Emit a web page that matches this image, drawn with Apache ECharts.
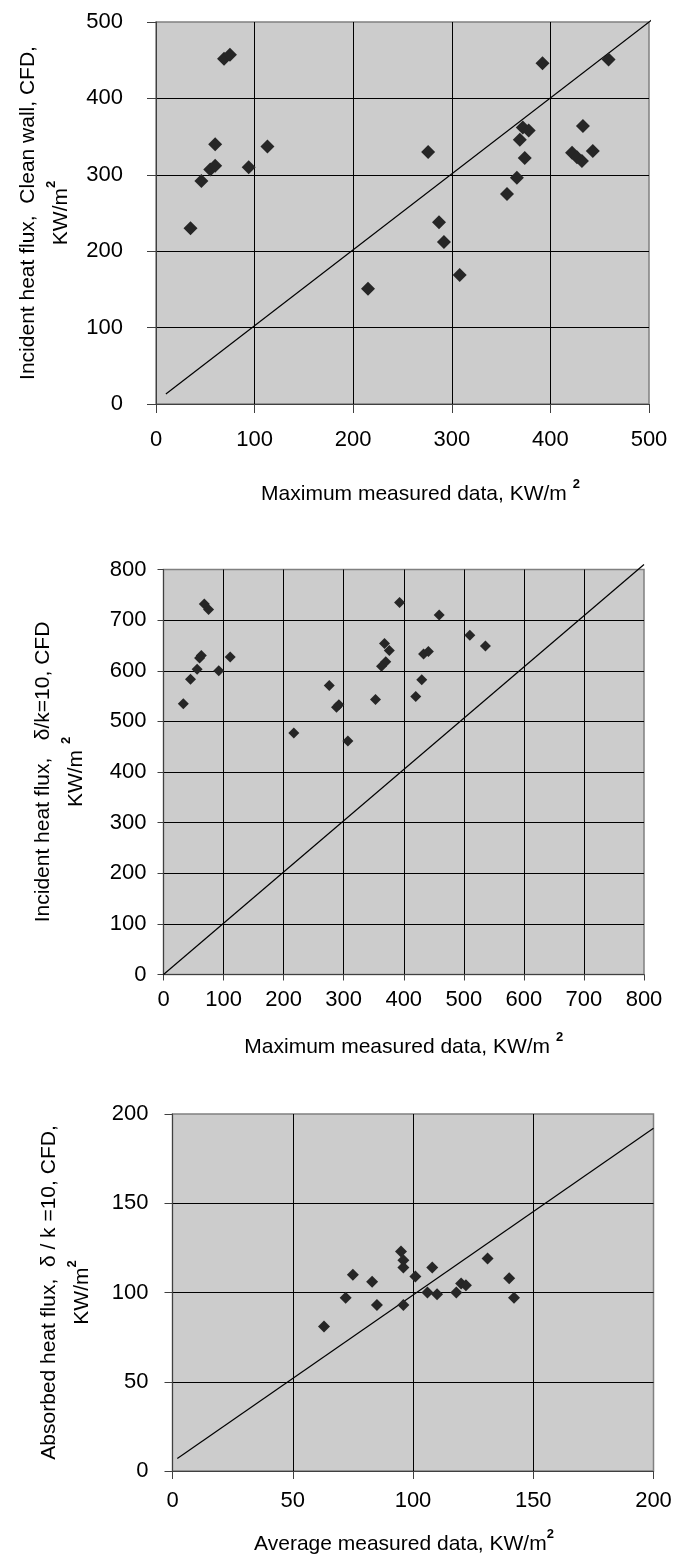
<!DOCTYPE html>
<html lang="en">
<head>
<meta charset="UTF-8">
<title>Heat flux: CFD vs measured</title>
<script src="https://cdn.jsdelivr.net/npm/echarts@6/dist/echarts.min.js"></script>
<style>
    body { margin: 0; padding: 0; background: #fff; }
    #main { width: 681px; height: 1566px; }
</style>
</head>
<body>
<div id="main"></div>
<script>
    // chart 1 : clean wall, incident flux vs maximum measured
    var cleanX = [69, 75, 60, 46, 55, 60, 94, 113, 35, 276, 215, 287, 292, 308, 392, 459, 372, 378, 369, 374, 366, 356, 433, 422, 427, 432, 443];
    var cleanY = [452, 457, 340, 292, 307, 312, 310, 337, 230, 330, 151, 238, 212, 169, 446, 451, 362, 358, 346, 322, 296, 275, 364, 329, 323, 318, 331];
    var cleanLineX = [10, 505];
    var cleanLineY = [13, 505];

    // chart 2 : delta/k=10, incident flux vs maximum measured
    var incX = [68, 75, 60, 63, 56, 45, 33, 92, 111, 217, 276, 288, 292, 307, 353, 368, 376, 370, 363, 393, 420, 430, 433, 441, 459, 510, 536];
    var incY = [732, 721, 625, 630, 603, 583, 535, 600, 627, 477, 571, 528, 533, 461, 543, 654, 640, 618, 609, 735, 549, 582, 633, 638, 710, 670, 649];
    var incLineX = [0, 800];
    var incLineY = [0, 810];

    // chart 3 : delta/k=10, absorbed flux vs average measured
    var absX = [95, 96, 96, 101, 75, 83, 72, 85, 63, 96, 108, 106, 110, 118, 120, 122, 131, 140, 142];
    var absY = [123, 118, 114, 109, 110, 106, 97, 93, 81, 93, 114, 100, 99, 100, 105, 104, 119, 108, 97];
    var absLineX = [2, 200];
    var absLineY = [7, 192];

    var font = 'Liberation Sans, Arial, sans-serif';

    function pairs(xs, ys) {
        var out = [];
        for (var i = 0; i < xs.length; i++) out.push([xs[i], ys[i]]);
        return out;
    }

    var rich = {
        t: { fontSize: 21, fontFamily: font, color: '#000', lineHeight: 33 },
        s: { fontSize: 13, fontFamily: font, fontWeight: 'bold', color: '#000', lineHeight: 18, verticalAlign: 'top' }
    };

    function axis(idx, max, interval, name, gap, labelMargin, tickLen, pad) {
        return {
            type: 'value', gridIndex: idx, min: 0, max: max, interval: interval,
            name: name, nameLocation: 'middle', nameGap: gap,
            nameTextStyle: { rich: rich, padding: pad || 0 },
            axisLine: { show: true, lineStyle: { color: '#404040', width: 1 } },
            axisTick: { show: true, length: tickLen, lineStyle: { color: '#404040' } },
            axisLabel: { color: '#000', fontSize: 22, fontFamily: font, margin: labelMargin,
                         showMinLabel: true, showMaxLabel: true },
            splitLine: { show: true, showMinLine: false, showMaxLine: false,
                         lineStyle: { color: '#000', width: 1 } }
        };
    }

    function scatter(idx, xs, ys, size) {
        return {
            type: 'scatter', xAxisIndex: idx, yAxisIndex: idx, z: 3,
            symbol: 'diamond', symbolSize: size,
            itemStyle: { color: '#262626', opacity: 1 },
            data: pairs(xs, ys)
        };
    }

    function diag(idx, xs, ys) {
        return {
            type: 'line', xAxisIndex: idx, yAxisIndex: idx, z: 2,
            symbol: 'none', clip: false,
            lineStyle: { color: '#000', width: 1.2 },
            data: pairs(xs, ys)
        };
    }

    var gridStyle = { show: true, backgroundColor: '#cccccc', borderColor: '#808080', borderWidth: 1.5,
                      containLabel: false, outerBoundsMode: 'none' };

    var option = {
        animation: false,
        backgroundColor: '#fff',
        grid: [
            Object.assign({ left: 156, width: 493, top: 22, height: 382 }, gridStyle),
            Object.assign({ left: 163.5, width: 480.5, top: 569.5, height: 405 }, gridStyle),
            Object.assign({ left: 172.5, width: 481, top: 1114, height: 357 }, gridStyle)
        ],
        xAxis: [
            axis(0, 500, 100, '{t|Maximum measured data, KW/m }{s|2}', 74, 25, 9, [0, 0, 0, 36]),
            axis(1, 800, 100, '{t|Maximum measured data, KW/m }{s|2}', 56, 14, 6),
            axis(2, 200, 50, '{t|Average measured data, KW/m}{s|2}', 57, 19, 8, [0, 18, 0, 0])
        ],
        yAxis: [
            Object.assign(axis(0, 500, 100, '{t|Incident heat flux,  Clean wall, CFD,}\n{t|KW/m}{s|2}', 78, 33, 9), { nameRotate: 90 }),
            Object.assign(axis(1, 800, 100, '{t|Incident heat flux,   \u03b4/k=10, CFD}\n{t|KW/m }{s|2}', 71, 17, 6), { nameRotate: 90 }),
            Object.assign(axis(2, 200, 50, '{t|Absorbed heat flux,  \u03b4 / k =10, CFD,}\n{t|KW/m}{s|2}', 74, 24, 8), { nameRotate: 90 })
        ],
        series: [
            diag(0, cleanLineX, cleanLineY),
            scatter(0, cleanX, cleanY, 14),
            diag(1, incLineX, incLineY),
            scatter(1, incX, incY, 11),
            diag(2, absLineX, absLineY),
            scatter(2, absX, absY, 12)
        ]
    };

    var myChart = echarts.init(document.getElementById('main'));
    myChart.setOption(option);
</script>
</body>
</html>
